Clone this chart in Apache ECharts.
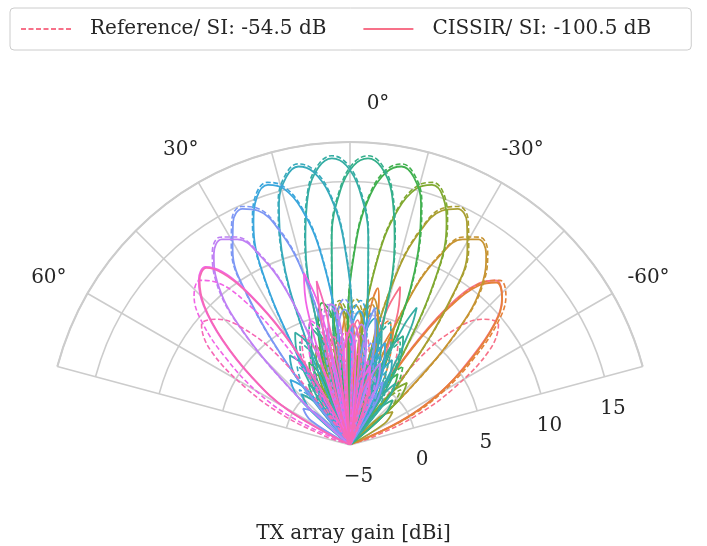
<!DOCTYPE html>
<html>
<head>
<meta charset="utf-8">
<script src="https://cdn.jsdelivr.net/npm/echarts@6/dist/echarts.min.js"></script>
<style>
html, body { margin: 0; padding: 0; background: #fff; }
#chart { width: 707px; height: 546px; }
</style>
</head>
<body>
<div id="chart"></div>
<script>
// beam colours, right-most beam first
var colors = ['#f77189', '#e5813a', '#c79432', '#a99f31', '#80a931', '#41b04f', '#34af8b',
              '#36ada4', '#37aabb', '#3aa6dc', '#7d97f4', '#bf80f4', '#f163e6', '#f669b5'];

var legendRef = 'Reference/ SI: -54.5 dB';
var legendCis = 'CISSIR/ SI: -100.5 dB';

// [angle deg, gain dBi]
var ref0 = [[-73.0,-5],[-70.5,-3.0],[-66.0,0.5],[-61.3,4.0],[-55.8,7.8],[-51.0,9.5],[-46.6,8.9],[-42.6,7.1],[-38.8,3.6],[-35.2,-3.0],[-31.8,-5],[-27.7,2.6],[-23.7,4.1],[-19.9,2.6],[-16.1,-5],[-12.4,1.8],[-8.7,3.3],[-5.1,1.8],[-1.6,-5],[2.0,0.5],[5.6,2.0],[9.2,0.5],[12.9,-5],[16.6,-2.0],[20.4,-0.5],[24.2,-2.0],[28.2,-5]];
var ref1 = [[-69.0,-5],[-65.0,-0.5],[-60.4,3.0],[-55.0,6.5],[-50.3,9.6],[-46.2,11.4],[-42.3,11.9],[-39.0,10.8],[-36.0,8.3],[-33.5,5.0],[-31.0,1.0],[-28.5,-3.0],[-26.5,-5],[-22.0,3.4],[-17.5,4.9],[-13.4,3.4],[-9.7,-5],[-6.1,2.1],[-2.5,3.6],[1.1,2.1],[4.7,-5],[8.3,0.1],[11.9,1.6],[15.6,0.1],[19.3,-5]];
var ref2 = [[-51.3,-5],[-46.9,1.1],[-42.8,7.7],[-39.1,11.2],[-35.5,13.0],[-32.0,13.6],[-28.7,13.0],[-25.5,11.2],[-22.3,7.7],[-19.3,1.1],[-16.3,-5],[-12.6,4.3],[-8.9,5.8],[-5.3,4.3],[-1.7,-5],[1.9,2.0],[5.5,3.5],[9.1,2.0],[12.7,-5],[16.4,-0.9],[20.2,0.6],[24.1,-0.9],[28.0,-5]];
var ref3 = [[-41.7,-5],[-39.8,-4.1],[-38.0,2.4],[-34.4,9.0],[-31.0,12.5],[-27.7,14.3],[-24.5,14.9],[-21.4,14.3],[-18.4,12.5],[-15.4,9.0],[-12.4,2.4],[-11.0,-4.1],[-9.5,-5],[-5.9,4.6],[-2.3,6.1],[1.3,4.6],[4.9,-5],[8.5,1.5],[12.1,3.0],[15.8,1.5],[19.6,-5],[23.4,-2.1],[27.4,-0.6],[31.5,-2.1],[35.8,-5]];
var ref4 = [[-53.2,-5],[-47.6,-0.8],[-42.5,0.7],[-37.8,-0.8],[-33.4,-5],[-31.7,-3.1],[-30.1,3.4],[-26.8,10.0],[-23.6,13.5],[-20.6,15.3],[-17.5,15.9],[-14.5,15.3],[-11.6,13.5],[-8.7,10.0],[-5.8,3.4],[-4.4,-3.1],[-2.9,-5],[0.7,4.5],[4.2,6.0],[7.9,4.5],[11.5,-5],[15.2,0.7],[18.9,2.2],[22.7,0.7],[26.7,-5]];
var ref5 = [[-43.0,-5],[-38.3,0.7],[-33.9,2.2],[-29.6,0.7],[-25.6,-5],[-24.0,-2.3],[-22.5,4.2],[-19.4,10.8],[-16.4,14.3],[-13.4,16.1],[-10.5,16.7],[-7.6,16.1],[-4.7,14.3],[-1.8,10.8],[1.0,4.2],[2.5,-2.3],[3.9,-5],[7.5,4.1],[11.1,5.6],[14.8,4.1],[18.5,-5],[22.4,-0.3],[26.3,1.2],[30.4,-0.3],[34.6,-5]];
var ref6 = [[-34.3,-5],[-30.0,2.2],[-26.0,3.7],[-22.1,2.2],[-18.2,-5],[-16.7,-2.0],[-15.3,4.5],[-12.3,11.1],[-9.4,14.6],[-6.5,16.4],[-3.6,17.0],[-0.7,16.4],[2.1,14.6],[5.0,11.1],[7.9,4.5],[9.3,-2.0],[10.8,-5],[14.5,3.3],[18.2,4.8],[22.0,3.3],[25.9,-5],[30.0,-1.8],[34.2,-0.3],[38.7,-1.8],[43.4,-5]];
var ref7 = [[-43.4,-5],[-38.7,-1.8],[-34.2,-0.3],[-30.0,-1.8],[-25.9,-5],[-22.0,3.3],[-18.2,4.8],[-14.5,3.3],[-10.8,-5],[-9.3,-2.0],[-7.9,4.5],[-5.0,11.1],[-2.1,14.6],[0.7,16.4],[3.6,17.0],[6.5,16.4],[9.4,14.6],[12.3,11.1],[15.3,4.5],[16.7,-2.0],[18.2,-5],[22.1,2.2],[26.0,3.7],[30.0,2.2],[34.3,-5]];
var ref8 = [[-34.6,-5],[-30.4,-0.3],[-26.3,1.2],[-22.4,-0.3],[-18.5,-5],[-14.8,4.1],[-11.1,5.6],[-7.5,4.1],[-3.9,-5],[-2.5,-2.3],[-1.0,4.2],[1.8,10.8],[4.7,14.3],[7.6,16.1],[10.5,16.7],[13.4,16.1],[16.4,14.3],[19.4,10.8],[22.5,4.2],[24.0,-2.3],[25.6,-5],[29.6,0.7],[33.9,2.2],[38.3,0.7],[43.0,-5]];
var ref9 = [[-26.7,-5],[-22.7,0.7],[-18.9,2.2],[-15.2,0.7],[-11.5,-5],[-7.9,4.5],[-4.2,6.0],[-0.7,4.5],[2.9,-5],[4.4,-3.1],[5.8,3.4],[8.7,10.0],[11.6,13.5],[14.5,15.3],[17.5,15.9],[20.6,15.3],[23.6,13.5],[26.8,10.0],[30.1,3.4],[31.7,-3.1],[33.4,-5],[37.8,-0.8],[42.5,0.7],[47.6,-0.8],[53.2,-5]];
var ref10 = [[-35.8,-5],[-31.5,-2.1],[-27.4,-0.6],[-23.4,-2.1],[-19.6,-5],[-15.8,1.5],[-12.1,3.0],[-8.5,1.5],[-4.9,-5],[-1.3,4.6],[2.3,6.1],[5.9,4.6],[9.5,-5],[11.0,-4.1],[12.4,2.4],[15.4,9.0],[18.4,12.5],[21.4,14.3],[24.5,14.9],[27.7,14.3],[31.0,12.5],[34.4,9.0],[38.0,2.4],[39.8,-4.1],[41.7,-5]];
var ref11 = [[-28.0,-5],[-24.1,-0.9],[-20.2,0.6],[-16.4,-0.9],[-12.7,-5],[-9.1,2.0],[-5.5,3.5],[-1.9,2.0],[1.7,-5],[5.3,4.3],[8.9,5.8],[12.6,4.3],[16.3,-5],[19.3,1.1],[22.3,7.7],[25.5,11.2],[28.7,13.0],[32.0,13.6],[35.5,13.0],[39.1,11.2],[42.8,7.7],[46.9,1.1],[51.3,-5]];
var ref12 = [[-19.3,-5],[-15.6,0.1],[-11.9,1.6],[-8.3,0.1],[-4.7,-5],[-1.1,2.1],[2.5,3.6],[6.1,2.1],[9.7,-5],[13.4,3.4],[17.5,4.9],[22.0,3.4],[26.5,-5],[28.5,-3.0],[31.0,1.0],[33.5,5.0],[36.0,8.3],[39.0,10.8],[42.3,11.9],[46.2,11.4],[50.3,9.6],[55.0,6.5],[60.4,3.0],[65.0,-0.5],[69.0,-5]];
var ref13 = [[-28.2,-5],[-24.2,-2.0],[-20.4,-0.5],[-16.6,-2.0],[-12.9,-5],[-9.2,0.5],[-5.6,2.0],[-2.0,0.5],[1.6,-5],[5.1,1.8],[8.7,3.3],[12.4,1.8],[16.1,-5],[19.9,2.6],[23.7,4.1],[27.7,2.6],[31.8,-5],[35.2,-3.0],[38.8,3.6],[42.6,7.1],[46.6,8.9],[51.0,9.5],[55.8,7.8],[61.3,4.0],[66.0,0.5],[70.5,-3.0],[73.0,-5]];

var cis0 = [[-68.5,-5],[-64.5,-0.6],[-60.0,2.8],[-54.5,6.2],[-50.0,9.3],[-45.8,11.1],[-41.6,11.7],[-38.6,10.7],[-35.6,8.2],[-33.2,4.9],[-30.8,0.9],[-28.3,-3.1],[-26.3,-5],[-22.6,-1.0],[-20.2,5.2],[-17.6,7.6],[-15.0,5.2],[-12.8,-1.0],[-10.5,-5],[-7.0,2.3],[-3.5,4.5],[0.0,2.3],[3.5,-5],[7.5,2.0],[11.0,4.0],[14.5,2.0],[18.5,-5]];
var cis1 = [[-69.0,-5],[-65.0,-0.8],[-60.4,2.6],[-55.0,6.1],[-50.3,9.2],[-46.2,11.0],[-42.0,11.6],[-39.0,10.6],[-36.0,8.1],[-33.5,4.8],[-31.0,0.8],[-28.5,-3.2],[-26.5,-5],[-23.5,2.0],[-20.5,4.5],[-17.5,2.0],[-14.8,-5],[-12.6,3.5],[-11.3,6.2],[-10.1,7.1],[-8.9,6.2],[-7.6,3.5],[-5.9,-5],[-2.5,3.0],[1.0,5.0],[4.5,3.0],[8.0,-5],[11.5,2.0],[15.0,3.5],[18.5,2.0],[22.0,-5]];
var cis2 = [[-51.3,-5],[-46.9,0.9],[-42.8,7.5],[-39.1,11.0],[-35.5,12.8],[-32.0,13.4],[-28.7,12.8],[-25.5,11.0],[-22.3,7.5],[-19.3,0.9],[-16.3,-5],[-12.6,4.8],[-8.9,6.3],[-5.3,4.8],[-1.7,-5],[0.6,-0.5],[2.4,4.2],[4.1,5.8],[5.8,4.2],[7.6,-0.5],[9.8,-5],[13.5,0.5],[17.0,2.0],[20.5,0.5],[24.0,-5]];
var cis3 = [[-64.5,-5],[-58.0,-1.9],[-52.2,-0.9],[-46.7,-1.9],[-41.7,-5],[-39.8,-4.3],[-38.0,2.2],[-34.4,8.8],[-31.0,12.3],[-27.7,14.1],[-24.5,14.7],[-21.4,14.1],[-18.4,12.3],[-15.4,8.8],[-12.4,2.2],[-11.0,-4.3],[-9.5,-5],[-5.9,4.1],[-2.3,5.6],[1.3,4.1],[4.9,-5],[8.5,2.0],[12.1,3.5],[15.8,2.0],[19.6,-5],[23.4,-1.3],[27.4,0.2],[31.5,-1.3],[35.8,-5]];
var cis4 = [[-53.2,-5],[-47.6,-0.1],[-42.5,1.4],[-37.8,-0.1],[-33.4,-5],[-31.7,-3.3],[-30.1,3.2],[-26.8,9.8],[-23.6,13.3],[-20.6,15.1],[-17.5,15.7],[-14.5,15.1],[-11.6,13.3],[-8.7,9.8],[-5.8,3.2],[-4.4,-3.3],[-2.9,-5],[0.7,4.0],[4.2,5.5],[7.9,4.0],[11.5,-5],[15.2,1.5],[18.9,3.0],[22.7,1.5],[26.7,-5]];
var cis5 = [[-43.0,-5],[-38.3,0.0],[-33.9,1.5],[-29.6,0.0],[-25.6,-5],[-24.0,-2.5],[-22.5,4.0],[-19.4,10.6],[-16.4,14.1],[-13.4,15.9],[-10.5,16.5],[-7.6,15.9],[-4.7,14.1],[-1.8,10.6],[1.0,4.0],[2.5,-2.5],[3.9,-5],[7.5,4.5],[11.1,6.0],[14.8,4.5],[18.5,-5],[22.4,0.5],[26.3,2.0],[30.4,0.5],[34.6,-5]];
var cis6 = [[-53.5,-5],[-48.5,-1.5],[-43.5,-0.3],[-38.8,-1.5],[-34.3,-5],[-30.0,2.7],[-26.0,4.2],[-22.1,2.7],[-18.2,-5],[-16.7,-2.2],[-15.3,4.3],[-12.3,10.9],[-9.4,14.4],[-6.5,16.2],[-3.6,16.8],[-0.7,16.2],[2.1,14.4],[5.0,10.9],[7.9,4.3],[9.3,-2.2],[10.8,-5],[14.5,2.8],[18.2,4.3],[22.0,2.8],[25.9,-5],[30.0,-0.9],[34.2,0.6],[38.7,-0.9],[43.4,-5]];
var cis7 = [[-43.4,-5],[-39.5,-0.5],[-36.5,0.8],[-33.5,-0.5],[-31.0,-5],[-29.0,1.5],[-27.5,5.0],[-25.9,6.6],[-24.3,5.0],[-22.8,1.5],[-21.0,-5],[-18.2,2.5],[-15.5,4.0],[-12.8,2.5],[-10.8,-5],[-9.3,-2.2],[-7.9,4.3],[-5.0,10.9],[-2.1,14.4],[0.7,16.2],[3.6,16.8],[6.5,16.2],[9.4,14.4],[12.3,10.9],[15.3,4.3],[16.7,-2.2],[18.2,-5],[22.1,3.0],[26.0,4.5],[30.0,3.0],[34.3,-5],[38.8,-1.0],[43.5,0.3],[48.5,-1.0],[53.5,-5]];
var cis8 = [[-34.6,-5],[-30.4,0.7],[-26.3,2.2],[-22.4,0.7],[-18.5,-5],[-14.8,3.3],[-11.1,4.8],[-7.5,3.3],[-3.9,-5],[-2.5,-2.5],[-1.0,4.0],[1.8,10.6],[4.7,14.1],[7.6,15.9],[10.5,16.5],[13.4,15.9],[16.4,14.1],[19.4,10.6],[22.5,4.0],[24.0,-2.5],[25.6,-5],[29.6,1.7],[33.9,3.2],[38.3,1.7],[43.0,-5]];
var cis9 = [[-26.7,-5],[-22.7,1.7],[-18.9,3.2],[-15.2,1.7],[-11.5,-5],[-7.9,3.7],[-4.2,5.2],[-0.7,3.7],[2.9,-5],[4.4,-3.3],[5.8,3.2],[8.7,9.8],[11.6,13.3],[14.5,15.1],[17.5,15.7],[20.6,15.1],[23.6,13.3],[26.8,9.8],[30.1,3.2],[31.7,-3.3],[33.4,-5],[37.8,0.2],[42.5,1.7],[47.6,0.2],[53.2,-5]];
var cis10 = [[-35.8,-5],[-31.5,-1.1],[-27.4,0.4],[-23.4,-1.1],[-19.6,-5],[-14.8,-0.5],[-12.6,3.8],[-10.3,5.6],[-8.0,3.8],[-6.0,-0.5],[-4.9,-5],[-1.3,3.8],[2.3,5.3],[5.9,3.8],[9.5,-5],[11.0,-4.3],[12.4,2.2],[15.4,8.8],[18.4,12.3],[21.4,14.1],[24.5,14.7],[27.7,14.1],[31.0,12.3],[34.4,8.8],[38.0,2.2],[39.8,-4.3],[41.7,-5],[46.7,-1.5],[52.2,-0.5],[58.0,-1.5],[64.5,-5]];
var cis11 = [[-28.0,-5],[-24.1,0.1],[-20.2,1.6],[-16.4,0.1],[-12.7,-5],[-9.1,2.7],[-5.5,4.2],[-1.9,2.7],[1.7,-5],[4.0,3.0],[6.0,5.5],[8.0,5.8],[10.0,4.5],[12.5,0.0],[16.3,-5],[19.3,0.9],[22.3,7.5],[25.5,11.0],[28.7,12.8],[32.0,13.4],[35.5,12.8],[39.1,11.0],[42.8,7.5],[46.9,0.9],[51.3,-5]];
var cis12 = [[-21.8,-5],[-18.0,-0.3],[-14.2,1.2],[-10.6,-0.3],[-7.0,-5],[-3.4,2.1],[0.2,3.6],[3.8,2.1],[7.4,-5],[10.0,-0.5],[12.6,5.9],[15.0,8.5],[17.4,5.9],[20.0,-0.5],[23.0,-5],[26.5,-2.0],[29.0,2.0],[31.5,6.0],[34.3,9.5],[36.5,11.4],[39.0,12.4],[42.5,12.0],[46.3,10.4],[50.5,7.6],[55.5,4.0],[60.5,0.5],[65.0,-5]];
var cis13 = [[-24.0,-5],[-20.0,-1.0],[-16.2,0.5],[-12.5,-1.0],[-8.8,-5],[-5.2,2.7],[-1.6,4.2],[2.0,2.7],[5.6,-5],[8.0,-0.5],[10.2,5.2],[11.5,7.7],[12.8,5.2],[15.0,-0.5],[17.5,-5],[22.0,-5],[26.5,-2.2],[29.0,1.8],[31.5,5.8],[34.3,9.3],[36.5,11.2],[39.0,12.3],[42.5,11.9],[46.3,10.3],[50.5,7.5],[55.5,3.9],[60.5,0.4],[65.0,-5]];

var refBeams = [ref0, ref1, ref2, ref3, ref4, ref5, ref6, ref7, ref8, ref9, ref10, ref11, ref12, ref13];
var cisBeams = [cis0, cis1, cis2, cis3, cis4, cis5, cis6, cis7, cis8, cis9, cis10, cis11, cis12, cis13];

var font = 'DejaVu Serif';
var fontSize = 20;
var textColor = '#262626';
var gridColor = '#cccccc';

function toPolar(list) {
    // polar series want [radius, angle]
    return list.map(function(p){ return [p[1], p[0]]; });
}

var series = [];
for (var k = 0; k < refBeams.length; k++) {
    series.push({
        name: k === 0 ? legendRef : 'ref ' + k,
        type: 'line',
        coordinateSystem: 'polar',
        smooth: 0.4,
        symbol: 'none',
        data: toPolar(refBeams[k]),
        itemStyle: { color: colors[k] },
        lineStyle: { color: colors[k], width: 1.6, type: [5, 2.5] }
    });
    series.push({
        name: k === 0 ? legendCis : 'cis ' + k,
        type: 'line',
        coordinateSystem: 'polar',
        smooth: 0.4,
        symbol: 'none',
        data: toPolar(cisBeams[k]),
        itemStyle: { color: colors[k] },
        lineStyle: { color: colors[k], width: 1.8 }
    });
}

function label(style, text) {
    return { fontFamily: font, fontSize: fontSize, color: textColor, padding: style };
}

var chart = echarts.init(document.getElementById('chart'));
chart.setOption({
    animation: false,
    backgroundColor: '#ffffff',
    title: {
        text: 'TX array gain [dBi]',
        left: 'center',
        top: 519,
        textStyle: { fontFamily: font, fontSize: fontSize, fontWeight: 'normal', color: textColor }
    },
    legend: {
        data: [legendRef, legendCis],
        left: 10,
        top: 8,
        itemWidth: 50,
        itemHeight: 14,
        itemGap: 36,
        padding: [11, 40, 11, 10],
        borderColor: gridColor,
        borderWidth: 1,
        borderRadius: 4,
        itemStyle: { opacity: 0 },
        textStyle: { fontFamily: font, fontSize: fontSize, color: textColor, padding: [0, 0, 0, 14] }
    },
    polar: {
        center: [350, 445],
        radius: 303
    },
    angleAxis: {
        type: 'value',
        min: -75,
        max: 75,
        interval: 15,
        startAngle: 15,
        endAngle: 165,
        clockwise: false,
        axisLine: { lineStyle: { color: gridColor, width: 2 } },
        axisTick: { show: false },
        splitLine: { lineStyle: { color: gridColor, width: 1.6 } },
        axisLabel: {
            margin: 0,
            fontFamily: font,
            fontSize: fontSize,
            color: textColor,
            formatter: function(v){
                if (v === 0) return '{z|0°}';
                if (Math.abs(v) === 30) return '{a|' + v + '°}';
                if (v === 60) return '{l|60°}';
                if (v === -60) return '{r|-60°}';
                return '';
            },
            rich: {
                z: label([0, 0, 28, 56]),
                a: label([0, 0, 23, 0]),
                l: label([0, 21, 6, 0]),
                r: label([0, 0, 6, 15])
            }
        }
    },
    radiusAxis: {
        type: 'value',
        min: -5,
        max: 18,
        interval: 5,
        axisLine: { show: false },
        axisTick: { show: false },
        splitLine: { lineStyle: { color: gridColor, width: 1.6 } },
        axisLabel: {
            margin: -33,
            align: 'center',
            verticalAlign: 'middle',
            fontFamily: font,
            fontSize: fontSize,
            color: textColor,
            formatter: function(v){
                if (v > 15) return '';
                return v < 0 ? '\u2212' + Math.abs(v) : String(v);
            }
        }
    },
    series: series
});
</script>
</body>
</html>
